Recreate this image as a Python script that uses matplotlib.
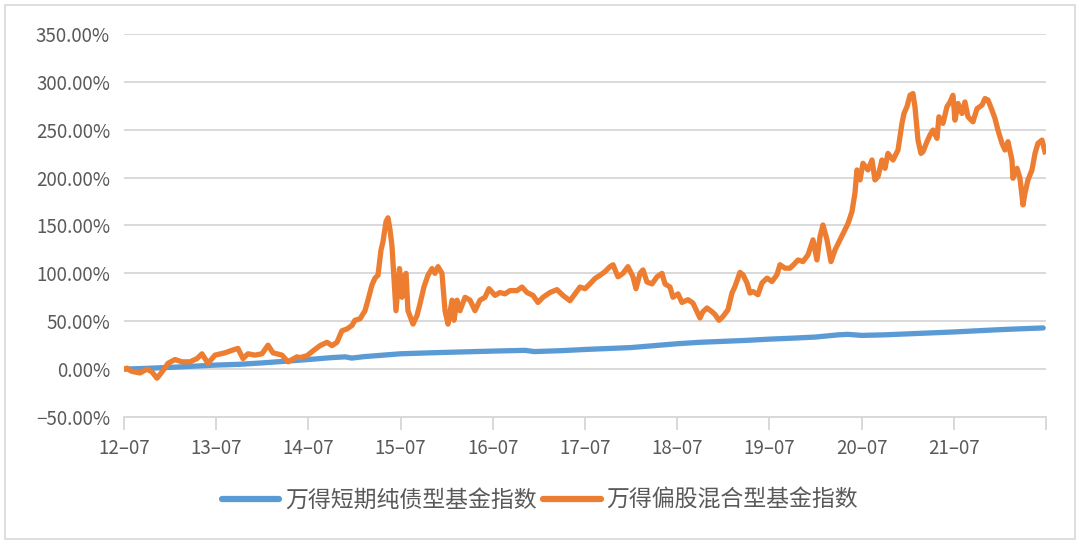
import numpy as np
import matplotlib.pyplot as plt
from matplotlib.patches import Rectangle

plt.rcParams['font.family'] = ['Noto Sans CJK SC', 'DejaVu Sans']

# time as decimal year, values in %
bond_t = [2012.50, 2012.75, 2013.00, 2013.25, 2013.50, 2013.75, 2014.00, 2014.25,
          2014.50, 2014.75, 2014.90, 2014.97, 2015.10, 2015.50, 2015.75, 2016.00,
          2016.50, 2016.85, 2016.95, 2017.25, 2017.50, 2017.75, 2018.00, 2018.25,
          2018.50, 2018.75, 2019.00, 2019.25, 2019.50, 2019.75, 2020.00, 2020.25,
          2020.35, 2020.50, 2020.75, 2021.00, 2021.25, 2021.50, 2021.75, 2022.00,
          2022.25, 2022.47]
bond_v = [0.0, 0.8, 1.8, 3.0, 4.2, 5.0, 6.5, 8.2,
          10.0, 12.0, 12.8, 11.5, 13.0, 16.0, 16.8, 17.5,
          18.8, 19.6, 18.3, 19.3, 20.5, 21.5, 22.5, 24.5,
          26.5, 28.0, 29.0, 30.0, 31.3, 32.3, 33.5, 35.8,
          36.3, 35.2, 35.8, 36.8, 37.8, 38.8, 40.0, 41.2,
          42.2, 43.0]

equity_t = [2012.500, 2012.533, 2012.576, 2012.619, 2012.674, 2012.749, 2012.804, 2012.858,
            2012.912, 2012.977, 2013.053, 2013.129, 2013.216, 2013.292, 2013.346, 2013.411,
            2013.487, 2013.595, 2013.682, 2013.736, 2013.791, 2013.845, 2013.921, 2013.997,
            2014.062, 2014.116, 2014.214, 2014.279, 2014.376, 2014.409, 2014.485, 2014.550,
            2014.626, 2014.702, 2014.756, 2014.810, 2014.864, 2014.919, 2014.973, 2015.005,
            2015.060, 2015.114, 2015.146, 2015.190, 2015.222, 2015.255, 2015.287, 2015.309,
            2015.342, 2015.363, 2015.385, 2015.407, 2015.428, 2015.450, 2015.472, 2015.488,
            2015.515, 2015.537, 2015.559, 2015.580, 2015.635, 2015.678, 2015.710, 2015.754,
            2015.797, 2015.841, 2015.873, 2015.906, 2015.949, 2015.982, 2016.014, 2016.058,
            2016.079, 2016.112, 2016.144, 2016.199, 2016.253, 2016.307, 2016.361, 2016.415,
            2016.459, 2016.524, 2016.578, 2016.632, 2016.687, 2016.763, 2016.817, 2016.871,
            2016.936, 2016.990, 2017.045, 2017.120, 2017.196, 2017.261, 2017.337, 2017.392,
            2017.446, 2017.500, 2017.554, 2017.608, 2017.663, 2017.717, 2017.771, 2017.804,
            2017.858, 2017.912, 2017.966, 2018.021, 2018.053, 2018.097, 2018.129, 2018.172,
            2018.227, 2018.281, 2018.335, 2018.368, 2018.422, 2018.454, 2018.509, 2018.552,
            2018.617, 2018.671, 2018.715, 2018.747, 2018.780, 2018.823, 2018.877, 2018.910,
            2018.953, 2018.997, 2019.051, 2019.094, 2019.127, 2019.181, 2019.214, 2019.257,
            2019.290, 2019.322, 2019.376, 2019.420, 2019.474, 2019.528, 2019.582, 2019.615,
            2019.669, 2019.723, 2019.778, 2019.810, 2019.864, 2019.919, 2019.973, 2020.016,
            2020.049, 2020.081, 2020.125, 2020.168, 2020.212, 2020.266, 2020.320, 2020.353,
            2020.396, 2020.428, 2020.450, 2020.483, 2020.515, 2020.569, 2020.613, 2020.645,
            2020.678, 2020.721, 2020.754, 2020.786, 2020.841, 2020.895, 2020.938, 2020.960,
            2020.992, 2021.025, 2021.057, 2021.079, 2021.112, 2021.144, 2021.166, 2021.209,
            2021.242, 2021.274, 2021.318, 2021.339, 2021.383, 2021.426, 2021.459, 2021.491,
            2021.513, 2021.546, 2021.589, 2021.621, 2021.654, 2021.708, 2021.752, 2021.806,
            2021.838, 2021.871, 2021.914, 2021.947, 2021.979, 2022.023, 2022.055, 2022.088,
            2022.131, 2022.142, 2022.186, 2022.218, 2022.251, 2022.272, 2022.305, 2022.348,
            2022.381, 2022.413, 2022.457, 2022.489]
equity_v = [0.0, 1.0, -2.0, -3.0, -4.0, 0.0, -3.0, -9.5,
            -3.0, 6.0, 10.0, 7.6, 7.6, 11.0, 16.0, 6.0,
            14.6, 17.0, 20.0, 21.6, 11.0, 16.0, 14.6, 16.0,
            25.0, 17.0, 14.6, 7.6, 12.8, 12.0, 14.0, 19.0,
            24.5, 28.0, 24.5, 28.0, 40.0, 42.0, 45.6, 51.0,
            52.6, 61.0, 72.0, 88.0, 95.0, 98.0, 124.0, 133.0,
            154.0, 158.0, 146.0, 128.0, 96.0, 61.0, 86.0, 105.0,
            75.0, 96.0, 100.0, 61.0, 47.0, 56.0, 68.0, 86.0,
            98.0, 105.0, 100.0, 107.0, 100.0, 61.0, 47.0, 72.0,
            51.0, 72.0, 61.0, 75.0, 72.0, 61.0, 72.0, 75.0,
            84.0, 77.0, 80.0, 78.6, 82.0, 82.0, 85.7, 80.0,
            77.0, 69.6, 75.0, 80.0, 83.0, 77.0, 71.4, 78.6,
            85.7, 84.0, 89.0, 94.6, 98.0, 101.8, 107.0, 109.0,
            96.4, 100.0, 107.0, 96.4, 84.0, 100.0, 103.6, 91.0,
            89.0, 96.4, 100.0, 89.0, 85.7, 75.0, 78.6, 69.6,
            72.5, 69.0, 60.0, 53.4, 60.0, 63.8, 60.0, 57.0,
            51.0, 55.0, 62.0, 79.4, 86.3, 101.0, 98.5, 90.0,
            79.4, 81.0, 77.7, 90.0, 95.0, 91.5, 98.5, 109.0,
            105.4, 105.4, 110.6, 114.0, 112.3, 119.3, 135.0, 114.0,
            138.3, 150.5, 135.0, 112.3, 124.5, 135.0, 145.3, 152.0,
            164.6, 183.7, 208.0, 197.6, 215.0, 208.0, 218.4, 197.6,
            201.0, 218.4, 209.7, 225.3, 218.4, 228.8, 256.6, 267.0,
            274.0, 286.0, 287.8, 274.0, 239.0, 225.3, 227.0, 237.5,
            244.4, 249.7, 241.0, 263.5, 256.6, 274.0, 279.0, 286.0,
            260.0, 277.4, 267.0, 279.0, 263.5, 258.3, 272.0, 275.7,
            282.6, 281.0, 270.5, 261.8, 249.7, 235.8, 228.8, 237.5,
            218.4, 199.3, 209.7, 199.3, 171.5, 183.7, 197.6, 208.0,
            225.3, 235.8, 239.2, 227.0]

tick_years = list(range(2012, 2022))
tick_labels = [f"{y % 100:02d}\u201307" for y in tick_years]
y_ticks = [-50, 0, 50, 100, 150, 200, 250, 300, 350]

names = ['万得短期纯债型基金指数', '万得偏股混合型基金指数']

fig = plt.figure(figsize=(10.8, 5.44), dpi=100)
ax = fig.add_axes([0.1148, 0.2335, 0.8537, 0.704])

grid_c = '#d9d9d9'
txt_c = '#595959'

l1, = ax.plot(bond_t, bond_v, color='#5b9bd5', lw=3.8, solid_capstyle='round', zorder=3)
l2, = ax.plot(equity_t, equity_v, color='#ed7d31', lw=3.8, solid_joinstyle='round', zorder=4)

ax.set_xlim(2012.5, 2022.5)
ax.set_ylim(-50, 350)
ax.set_yticks(y_ticks)
ax.set_yticklabels([f"{v:.2f}%".replace('-', '\u2212') for v in y_ticks])
ax.set_xticks([y + 0.5 for y in tick_years] + [2022.5])
ax.set_xticklabels(tick_labels + [''])

ax.grid(axis='y', color=grid_c, lw=1.4)
ax.set_axisbelow(True)
for s in ['top', 'right', 'left']:
    ax.spines[s].set_visible(False)
ax.spines['bottom'].set_color(grid_c)
ax.spines['bottom'].set_linewidth(1.4)
ax.tick_params(axis='y', length=0, pad=10, labelsize=13.5, labelcolor=txt_c)
ax.tick_params(axis='x', length=9, width=1.4, color=grid_c, pad=6, labelsize=13.5, labelcolor=txt_c)

leg = fig.legend([l1, l2], names, loc='center', bbox_to_anchor=(0.5, 0.08), ncol=2, frameon=False,
                 fontsize=16.5, labelcolor=txt_c, handlelength=2.5, handletextpad=0.25,
                 columnspacing=0.3)
for h in leg.get_lines():
    h.set_linewidth(4.5)
    h.set_solid_capstyle('round')

fig.add_artist(Rectangle((0.005, 0.01), 0.99, 0.98, transform=fig.transFigure,
                         fill=False, edgecolor=grid_c, lw=1.2))

fig.savefig('out.png', dpi=100)
